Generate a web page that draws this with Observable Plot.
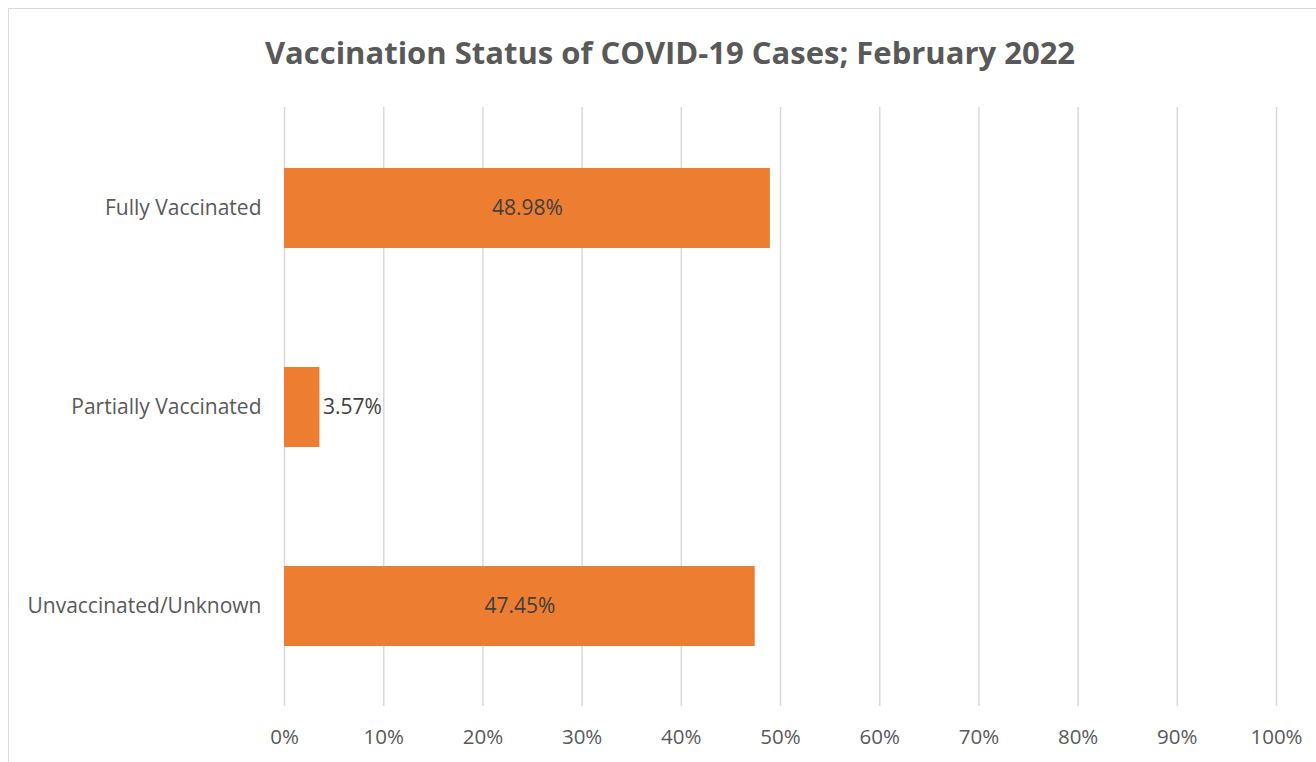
<!DOCTYPE html>
<html>
<head>
<meta charset="utf-8">
<script src="https://cdn.jsdelivr.net/npm/d3@7"></script>
<script src="https://cdn.jsdelivr.net/npm/@observablehq/plot@0.6"></script>
<style>
  html, body { margin: 0; padding: 0; background: #fff; }
  #wrap { position: relative; width: 1316px; height: 762px; overflow: hidden; font-family: "Open Sans", sans-serif; }
  #frame { position: absolute; left: 8px; top: 8px; width: 1400px; height: 800px; border-left: 1.5px solid #d9d9d9; border-top: 1.5px solid #d9d9d9; }
  #title { position: absolute; left: 0; top: 0; width: 1340px; height: 90px; line-height: 104px; text-align: center; font-size: 31px; font-weight: 700; color: #595959; }
  #chart { position: absolute; left: 0; top: 90px; }
</style>
</head>
<body>
<div id="wrap">
  <div id="frame"></div>
  <div id="title">Vaccination Status of COVID-19 Cases; February 2022</div>
  <div id="chart"></div>
</div>
<script>
const categories = ["Fully Vaccinated", "Partially Vaccinated", "Unvaccinated/Unknown"];
const values = [48.98, 3.57, 47.45];
const tickValues = [0, 10, 20, 30, 40, 50, 60, 70, 80, 90, 100];

const data = categories.map((c, i) => ({category: c, value: values[i]}));
const inside = data.filter(d => d.value >= 10);
const outside = data.filter(d => d.value < 10);

const chart = Plot.plot({
  width: 1316,
  height: 672,
  marginTop: 17,
  marginBottom: 56,
  marginLeft: 284,
  marginRight: 40,
  style: {fontFamily: "'Open Sans', sans-serif", fontSize: "21px", color: "#595959", background: "transparent"},
  x: {domain: [0, 100], ticks: tickValues, tickFormat: d => d + "%", grid: false},
  y: {domain: categories, paddingInner: 0.6, paddingOuter: 0.3, label: null},
  marks: [
    Plot.ruleX(tickValues, {x: d => d, stroke: "#d9d9d9", strokeWidth: 1.5, strokeOpacity: 1}),
    Plot.barX(data, {y: "category", x: "value", fill: "#ED7D31"}),
    Plot.text(inside, {y: "category", x: d => d.value / 2, text: d => d.value.toFixed(2) + "%", fill: "#404040", fontSize: 21}),
    Plot.text(outside, {y: "category", x: "value", text: d => d.value.toFixed(2) + "%", fill: "#404040", fontSize: 21, textAnchor: "start", dx: 3}),
    Plot.axisX({ticks: tickValues, tickFormat: d => d + "%", tickSize: 0, tickPadding: 23, label: null, fontSize: 20.5}),
    Plot.axisY({tickSize: 0, tickPadding: 23, label: null, fontSize: 21})
  ]
});
document.getElementById("chart").appendChild(chart);
</script>
</body>
</html>
